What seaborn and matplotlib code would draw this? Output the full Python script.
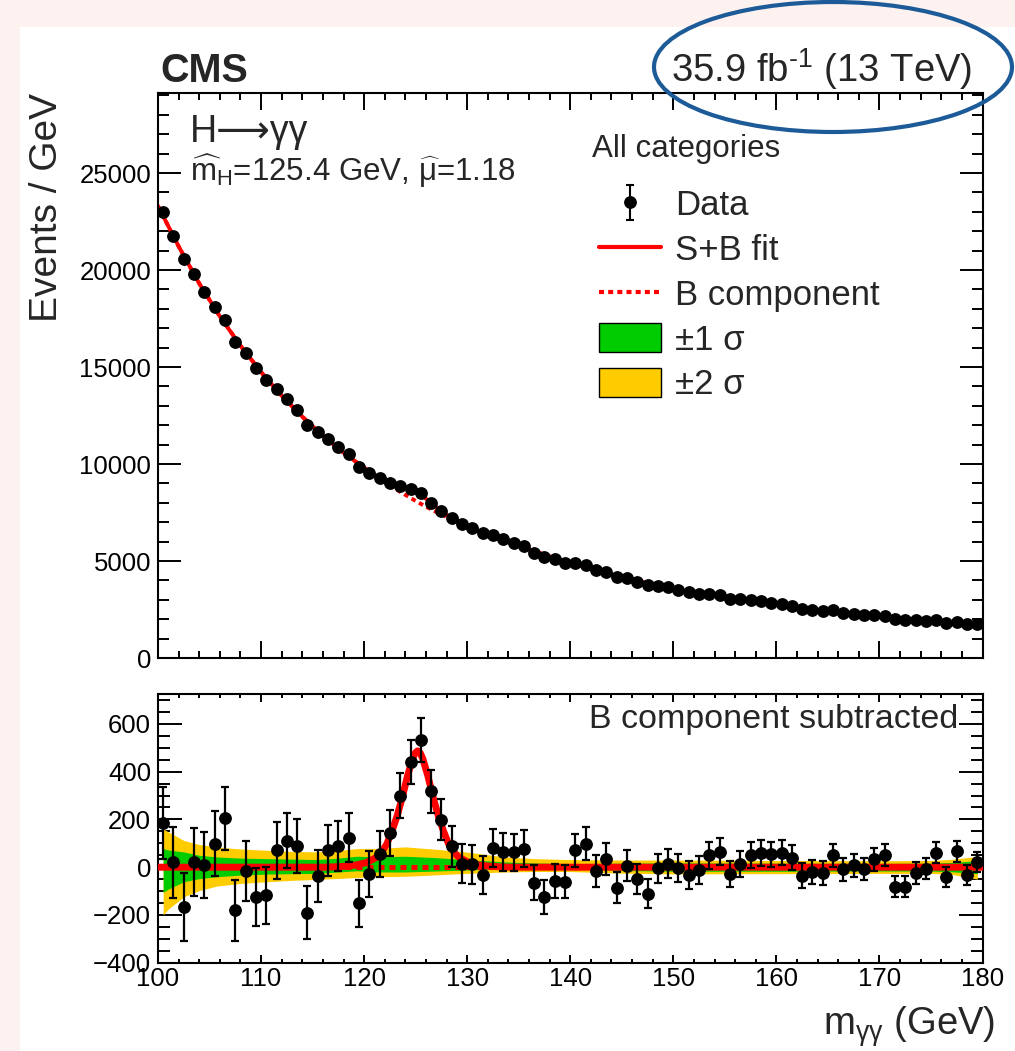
import numpy as np
import matplotlib
matplotlib.use("Agg")
import matplotlib.pyplot as plt
import seaborn as sns
from matplotlib.patches import Ellipse, Patch, Rectangle
from matplotlib.lines import Line2D
from matplotlib.ticker import MultipleLocator

# ---------------------------------------------------------------- data
# diphoton invariant mass, 1 GeV bins from 100 to 180 GeV (bin centres)
mass = np.arange(100.5, 180.0, 1.0)

# events per bin, all categories combined
events = [
    22976, 21754, 20552, 19780, 18885, 18110, 17424, 16275, 15740, 14934,
    14315, 13883, 13352, 12784, 11996, 11650, 11306, 10893, 10500, 9862,
    9552, 9294, 9006, 8866, 8697, 8490, 7975, 7593, 7232, 6923,
    6702, 6447, 6340, 6124, 5932, 5758, 5435, 5206, 5103, 4920,
    4900, 4769, 4515, 4415, 4154, 4117, 3929, 3749, 3735, 3635,
    3512, 3393, 3323, 3300, 3234, 3062, 3022, 2985, 2920, 2839,
    2776, 2690, 2550, 2499, 2436, 2449, 2332, 2293, 2222, 2208,
    2176, 1993, 1943, 1956, 1928, 1951, 1805, 1867, 1727, 1740,
]

# events per bin after subtracting the background component
residual = [
    185, 20, -167, 22, 8, 99, 205, -180, -15, -124,
    -117, 70, 111, 90, -190, -36, 71, 90, 124, -151,
    -29, 57, 143, 299, 440, 532, 318, 199, 87, 15,
    12, -33, 80, 64, 62, 78, -65, -124, -57, -60,
    70, 99, -15, 35, -86, 7, -51, -111, -5, 15,
    -3, -32, -12, 50, 64, -28, 12, 50, 60, 54,
    61, 40, -35, -21, -24, 49, -8, 8, -8, 33,
    51, -82, -82, -24, -7, 61, -40, 67, -33, 20,
]

# background component of the fit
bkg_mass = [100, 102, 104, 106, 108, 110, 112, 114, 116, 118, 120,
            122, 124, 126, 128, 130, 132, 134, 136, 138, 140,
            142, 144, 146, 148, 150, 152, 154, 156, 158, 160,
            162, 164, 166, 168, 170, 172, 174, 176, 178, 180]
bkg_fit = [23300, 21220, 19310, 17610, 16100, 14740, 13520, 12440, 11460, 10590, 9800,
           9050, 8410, 7800, 7270, 6790, 6360, 5960, 5590, 5240, 4900,
           4600, 4310, 4045, 3795, 3560, 3380, 3210, 3050, 2895, 2750,
           2620, 2490, 2370, 2260, 2150, 2050, 1960, 1870, 1780, 1700]

# signal component of the fit (events / GeV)
sig_mass = [116.2, 117.2, 118.2, 119.2, 120.2, 121.2, 121.7, 122.2, 122.7, 123.2,
            123.7, 124.2, 124.7, 124.95, 125.2, 125.45, 125.7, 126.2, 126.7, 127.2,
            127.7, 128.2, 128.7, 129.2, 130.2, 131.2, 132.2, 133.2, 134.2]
sig_fit = [0, 1.5, 4, 9, 19, 41, 63, 97, 151, 214,
           292, 380, 453, 478, 487, 478, 453, 380, 292, 214,
           151, 97, 63, 41, 19, 9, 4, 1.5, 0]

# background-only uncertainty bands, relative to the background component
band_mass = [100.5, 101, 102.5, 104, 105.7, 108, 110.5, 113, 115.4, 117.5, 119.3,
             121.1, 124, 127, 129.8, 133.7, 136.5, 139.8, 145, 150, 160,
             170, 175, 177, 179.5]
band_2lo = [-200, -175, -124, -98, -79, -68, -61, -55, -51, -47, -43,
            -40, -38, -32, -26, -20, -18, -18, -25, -28, -27,
            -26, -26, -30, -50]
band_1lo = [-105, -92, -61, -48, -40, -33, -29, -27, -26, -20, -15,
            -20, -20, -16, -12, -6, -5, -6, -14, -17, -17,
            -16, -16, -19, -27]
band_1hi = [78, 72, 64, 50, 43, 38, 36, 34, 32, 38, 46,
            43, 46, 40, 32, 22, 18, 15, 17, 18, 17,
            16, 17, 20, 27]
band_2hi = [160, 148, 112, 95, 85, 76, 71, 66, 64, 70, 78,
            78, 85, 75, 64, 43, 36, 32, 30, 30, 28,
            27, 28, 33, 45]

top_yticks = [0, 5000, 10000, 15000, 20000, 25000]
bot_yticks = [-400, -200, 0, 200, 400, 600]
xticks = [100, 110, 120, 130, 140, 150, 160, 170, 180]

legend_labels = ["Data", "S+B fit", "B component", "±1 σ", "±2 σ"]

# ---------------------------------------------------------------- derived curves
events = np.asarray(events, dtype=float)
residual = np.asarray(residual, dtype=float)
stat_err = np.sqrt(events)  # Poisson uncertainty on each bin

grid = np.union1d(bkg_mass, sig_mass)
bkg_on_grid = np.exp(np.interp(grid, bkg_mass, np.log(bkg_fit)))
sig_on_grid = np.interp(grid, sig_mass, sig_fit, left=0.0, right=0.0)
zero_on_grid = np.zeros_like(grid)

# ---------------------------------------------------------------- style
sns.set_theme(style="ticks")
plt.rcParams["font.family"] = ["Liberation Sans", "DejaVu Sans"]
plt.rcParams["mathtext.fontset"] = "custom"
plt.rcParams["mathtext.rm"] = "Liberation Sans"
plt.rcParams["mathtext.it"] = "Liberation Sans:italic"
plt.rcParams["mathtext.bf"] = "Liberation Sans:bold"
plt.rcParams["axes.unicode_minus"] = True

W, H = 1015, 1051
fig = plt.figure(figsize=(W / 100, H / 100), dpi=100)
fig.patch.set_facecolor("#fdf2f0")


def fx(x):
    return x / W


def fy(y):
    return 1 - y / H


# white canvas
fig.patches.append(Rectangle((fx(20), 0), 1, fy(27), transform=fig.transFigure,
                             facecolor="white", edgecolor="none", zorder=-5))

RED = "#ff0000"
GREEN = "#00cc00"
YELLOW = "#ffcc00"
DOTTED = (0, (1.2, 1.0))
MS = 8.2

ax_top = fig.add_axes([fx(158), fy(658), (982.5 - 158) / W, (658 - 92.7) / H])
ax_bot = fig.add_axes([fx(158), fy(963), (982.5 - 158) / W, (963 - 694) / H])

# ---------------------------------------------------------------- upper panel
sns.lineplot(x=grid, y=bkg_on_grid, ax=ax_top, color=RED, linewidth=2.8,
             linestyle=DOTTED, estimator=None, sort=False, legend=False)
sns.lineplot(x=grid, y=bkg_on_grid + sig_on_grid, ax=ax_top, color=RED, linewidth=2.8,
             estimator=None, sort=False, legend=False)
data_eb = ax_top.errorbar(mass, events, yerr=stat_err, fmt="o", color="black",
                          markersize=MS, elinewidth=1.5, capsize=3, capthick=1.5,
                          zorder=5)

ax_top.set_xlim(100, 180)
ax_top.set_ylim(0, 29140)
ax_top.set_yticks(top_yticks)
ax_top.set_xticks(xticks)
ax_top.xaxis.set_minor_locator(MultipleLocator(2))
ax_top.yaxis.set_minor_locator(MultipleLocator(1000))
ax_top.tick_params(which="both", direction="in", top=True, right=True,
                   labelbottom=False, width=1.4, colors="black", labelsize=18.5, pad=5)
ax_top.tick_params(axis="x", which="major", length=12)
ax_top.tick_params(axis="x", which="minor", length=5.3)
ax_top.tick_params(axis="y", which="major", length=16.8)
ax_top.tick_params(axis="y", which="minor", length=8.2)

ax_top.text(fx(190), fy(142), "H⟶γγ", transform=fig.transFigure,
            fontsize=27, ha="left", va="baseline",
            family=["Liberation Sans", "DejaVu Sans"])
ax_top.text(fx(190), fy(181),
            r"$\widehat{\mathrm{m}}_{\mathrm{H}}$=125.4 GeV, $\widehat{\mathrm{\mu}}$=1.18",
            transform=fig.transFigure, fontsize=22.5, ha="left", va="baseline")
ax_top.text(fx(592), fy(157), "All categories", transform=fig.transFigure,
            fontsize=22.5, ha="left", va="baseline")

handles = [
    data_eb,
    Line2D([], [], color=RED, linewidth=3),
    Line2D([], [], color=RED, linewidth=3, linestyle=DOTTED),
    Patch(facecolor=GREEN, edgecolor="black", linewidth=1),
    Patch(facecolor=YELLOW, edgecolor="black", linewidth=1),
]
ax_top.legend(handles, legend_labels, loc="upper left",
              bbox_to_anchor=(fx(599), fy(189)), bbox_transform=fig.transFigure,
              frameon=False, fontsize=25, handlelength=1.79, handleheight=0.89,
              handletextpad=0.4, labelspacing=0.33, borderpad=0, borderaxespad=0)

# ---------------------------------------------------------------- lower panel
ax_bot.fill_between(band_mass, band_2lo, band_2hi, color=YELLOW, linewidth=0, zorder=1)
ax_bot.fill_between(band_mass, band_1lo, band_1hi, color=GREEN, linewidth=0, zorder=2)
sns.lineplot(x=grid, y=zero_on_grid, ax=ax_bot, color=RED, linewidth=3.6,
             linestyle=DOTTED, estimator=None, sort=False, legend=False, zorder=3)
sns.lineplot(x=grid, y=sig_on_grid, ax=ax_bot, color=RED, linewidth=5,
             estimator=None, sort=False, legend=False, zorder=4)
ax_bot.errorbar(mass, residual, yerr=stat_err, fmt="o", color="black",
                markersize=MS, elinewidth=1.6, capsize=3, capthick=1.6, zorder=5)

ax_bot.set_xlim(100, 180)
ax_bot.set_ylim(-401, 725)
ax_bot.set_yticks(bot_yticks)
ax_bot.set_xticks(xticks)
ax_bot.xaxis.set_minor_locator(MultipleLocator(2))
ax_bot.yaxis.set_minor_locator(MultipleLocator(50))
ax_bot.tick_params(which="both", direction="in", top=True, right=True,
                   width=1.4, colors="black", labelsize=18.5, pad=5)
ax_bot.tick_params(axis="x", which="major", length=5.8, pad=3)
ax_bot.tick_params(axis="x", which="minor", length=3)
ax_bot.tick_params(axis="y", which="major", length=17.3)
ax_bot.tick_params(axis="y", which="minor", length=8.6)

ax_bot.text(fx(958), fy(728), "B component subtracted", transform=fig.transFigure,
            fontsize=24.5, ha="right", va="baseline")

for ax in (ax_top, ax_bot):
    ax.set_facecolor("white")
    ax.set_xlabel("")
    ax.set_ylabel("")
    ax.grid(False)
    for sp in ax.spines.values():
        sp.set_linewidth(1.5)
        sp.set_color("black")
        sp.set_visible(True)

# ---------------------------------------------------------------- labels
fig.text(fx(47), fy(93), "Events / GeV", rotation=90, fontsize=28,
         ha="center", va="top")
fig.text(fx(995), fy(1035), r"m$_{\mathrm{\gamma\gamma}}$ (GeV)", fontsize=27.5,
         ha="right", va="baseline")
fig.text(fx(160), fy(82), "CMS", fontsize=28.5, fontweight="bold",
         ha="left", va="baseline")
fig.text(fx(972), fy(82), r"35.9 fb$^{\text{-1}}$ (13 TeV)", fontsize=27.5,
         ha="right", va="baseline")

fig.patches.append(Ellipse((fx(833), fy(67)), 358 / W, 130 / H,
                           transform=fig.transFigure, fill=False,
                           edgecolor="#1d5b98", linewidth=3, zorder=10))

fig.savefig("out.png", dpi=100, facecolor=fig.get_facecolor())
